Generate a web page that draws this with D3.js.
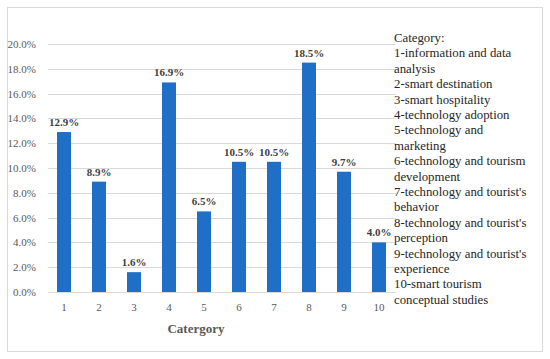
<!DOCTYPE html>
<html>
<head>
<meta charset="utf-8">
<script src="https://cdn.jsdelivr.net/npm/d3@7"></script>
<style>
  body { margin: 0; background: #fff; }
  svg text { font-family: "Liberation Serif", "DejaVu Serif", serif; }
</style>
</head>
<body>
<div id="chart"></div>
<script>
// datos
const categorias = ["1", "2", "3", "4", "5", "6", "7", "8", "9", "10"];
const porcentajes = [12.9, 8.9, 1.6, 16.9, 6.5, 10.5, 10.5, 18.5, 9.7, 4.0];
const ticksY = [0, 2, 4, 6, 8, 10, 12, 14, 16, 18, 20];
const leyenda = [
  "Category:",
  "1-information and data",
  "analysis",
  "2-smart destination",
  "3-smart hospitality",
  "4-technology adoption",
  "5-technology and",
  "marketing",
  "6-technology and tourism",
  "development",
  "7-technology and tourist's",
  "behavior",
  "8-technology and tourist's",
  "perception",
  "9-technology and tourist's",
  "experience",
  "10-smart tourism",
  "conceptual studies"
];

const w = 550, h = 359;
const margin = { top: 44, bottom: 67, left: 46.5, right: 153.5 };

const svg = d3.select("#chart")
  .append("svg")
  .attr("width", w)
  .attr("height", h);

// marco exterior
svg.append("rect")
  .attr("x", 7.5).attr("y", 7.5)
  .attr("width", 535).attr("height", 344)
  .attr("fill", "#fff")
  .attr("stroke", "#d9d9d9")
  .attr("stroke-width", 1);

const xScale = d3.scaleBand()
  .domain(categorias)
  .range([margin.left, w - margin.right])
  .paddingInner(0.6)
  .paddingOuter(0.3);

const yScale = d3.scaleLinear()
  .domain([0, 20])
  .range([h - margin.bottom, margin.top]);

// cuadricula
svg.append("g")
  .selectAll("line")
  .data(ticksY)
  .enter()
  .append("line")
  .attr("x1", 48)
  .attr("x2", 396)
  .attr("y1", d => Math.round(yScale(d)) + 0.5)
  .attr("y2", d => Math.round(yScale(d)) + 0.5)
  .attr("stroke", "#d9d9d9")
  .attr("stroke-width", 1);

// eje Y
const yAxis = d3.axisLeft(yScale)
  .tickValues(ticksY)
  .tickSize(0)
  .tickPadding(0)
  .tickFormat(d => d.toFixed(1) + "%");

svg.append("g")
  .attr("transform", "translate(36,0)")
  .call(yAxis)
  .call(g => g.select(".domain").remove())
  .selectAll("text")
  .attr("fill", "#595959")
  .style("font-size", "11px");

// barras
svg.append("g")
  .selectAll("rect")
  .data(porcentajes)
  .enter()
  .append("rect")
  .attr("fill", "#1f6fc6")
  .attr("x", (d, i) => xScale(categorias[i]))
  .attr("y", d => yScale(d))
  .attr("width", xScale.bandwidth())
  .attr("height", d => yScale(0) - yScale(d));

// etiquetas de valor
svg.append("g")
  .selectAll("text")
  .data(porcentajes)
  .enter()
  .append("text")
  .text(d => d.toFixed(1) + "%")
  .attr("x", (d, i) => xScale(categorias[i]) + xScale.bandwidth() / 2)
  .attr("y", d => yScale(d) - 6)
  .attr("text-anchor", "middle")
  .attr("fill", "#404040")
  .style("font-size", "11px")
  .style("font-weight", "bold");

// eje X
const xAxis = d3.axisBottom(xScale).tickSize(0).tickPadding(0);
svg.append("g")
  .attr("transform", `translate(0,${yScale(0) + 11})`)
  .call(xAxis)
  .call(g => g.select(".domain").remove())
  .selectAll("text")
  .attr("fill", "#595959")
  .style("font-size", "11px");

// titulo eje X
svg.append("text")
  .text("Catergory")
  .attr("x", 196)
  .attr("y", 333)
  .attr("text-anchor", "middle")
  .attr("fill", "#595959")
  .style("font-size", "13px")
  .style("font-weight", "bold");

// leyenda de categorias
svg.append("g")
  .selectAll("text")
  .data(leyenda)
  .enter()
  .append("text")
  .text(d => d)
  .attr("x", 394)
  .attr("y", (d, i) => 42 + i * 15.4)
  .attr("fill", "#262626")
  .style("font-size", "12.8px");
</script>
</body>
</html>
